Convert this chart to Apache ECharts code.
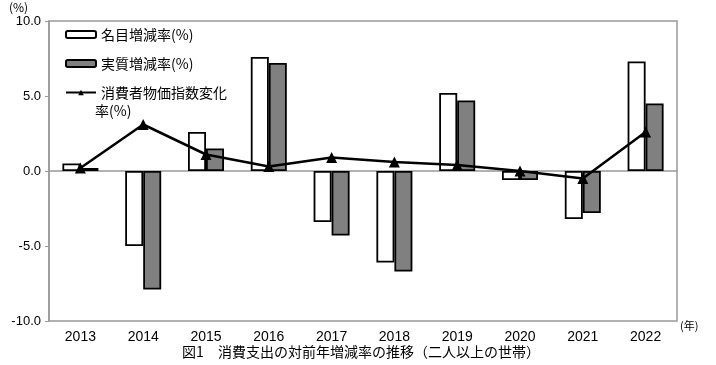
<!DOCTYPE html>
<html><head><meta charset="utf-8">
<script src="https://cdn.jsdelivr.net/npm/echarts@6/dist/echarts.min.js"></script>
<style>html,body{margin:0;padding:0;background:#fff}#c{width:716px;height:365px}</style>
</head><body><div id="c"></div>
<script>
const years = ['2013','2014','2015','2016','2017','2018','2019','2020','2021','2022'];
const nominal = [0.5, -5.0, 2.6, 7.6, -3.4, -6.1, 5.2, -0.6, -3.2, 7.3];
const real = [0.2, -7.9, 1.5, 7.2, -4.3, -6.7, 4.7, -0.6, -2.8, 4.5];
const cpi = [0.2, 3.1, 1.1, 0.3, 0.9, 0.6, 0.4, 0.0, -0.5, 2.6];
const yTicks = [-10, -5, 0, 5, 10];
const names = ['名目増減率(%)', '実質増減率(%)', '消費者物価指数変化率(%)'];

const chart = echarts.init(document.getElementById('c'));
const jp = '"Noto Sans CJK JP", "Noto Sans", sans-serif';
chart.setOption({
  animation: false,
  grid: {left: 49, right: 39, top: 21, bottom: 44, show: true, borderColor: '#999', borderWidth: 1.5, backgroundColor: 'transparent'},
  legend: {
    orient: 'vertical', left: 60, top: 20, itemWidth: 30, itemHeight: 7, itemGap: 10,
    data: names,
    textStyle: {fontFamily: jp, fontSize: 14, color: '#000', lineHeight: 19},
    formatter: n => n === names[2] ? '消費者物価指数変化' : n
  },
  xAxis: [
    {type: 'category', data: years, position: 'bottom',
     axisLine: {show: false, onZero: false}, axisTick: {show: false},
     axisLabel: {color: '#000', fontSize: 14, fontFamily: 'Liberation Sans, Arial', margin: 9}},
    {type: 'category', data: years,
     axisLine: {onZero: true, lineStyle: {color: '#999', width: 1.5}},
     axisTick: {inside: true, length: 4, lineStyle: {color: '#999'}},
     axisLabel: {show: false}}
  ],
  yAxis: {
    type: 'value', min: yTicks[0], max: yTicks[yTicks.length-1], interval: 5,
    axisLine: {show: true, lineStyle: {color: '#999', width: 1.5}},
    axisTick: {show: true, length: 4, lineStyle: {color: '#999'}},
    splitLine: {show: false},
    axisLabel: {color: '#000', fontSize: 13, fontFamily: 'Liberation Sans, Arial', margin: 8, formatter: v => v.toFixed(1)}
  },
  series: [
    {name: names[0], type: 'bar', data: nominal, barWidth: 18, barGap: '0%',
     itemStyle: {color: '#fff', borderColor: '#000', borderWidth: 1.8}},
    {name: names[1], type: 'bar', data: real, barWidth: 18,
     itemStyle: {color: '#808080', borderColor: '#000', borderWidth: 1.8}},
    {name: names[2], type: 'line', data: cpi, symbol: 'triangle', symbolSize: 11,
     lineStyle: {color: '#000', width: 2.5}, itemStyle: {color: '#000'}, z: 5}
  ],
  graphic: [
    {type: 'text', left: 9, top: 1, style: {text: '(%)', fontSize: 12, fontFamily: jp, fill: '#000'}},
    {type: 'text', left: 95, top: 104, style: {text: '率(%)', fontSize: 14, fontFamily: jp, fill: '#000'}},
    {type: 'text', left: 680, top: 320, style: {text: '(年)', fontSize: 11, fontFamily: jp, fill: '#000'}},
    {type: 'text', x: 361, y: 345, style: {text: '図1　消費支出の対前年増減率の推移（二人以上の世帯）', align: 'center', fontSize: 14, fontFamily: jp, fill: '#000'}}
  ]
});
</script></body></html>
